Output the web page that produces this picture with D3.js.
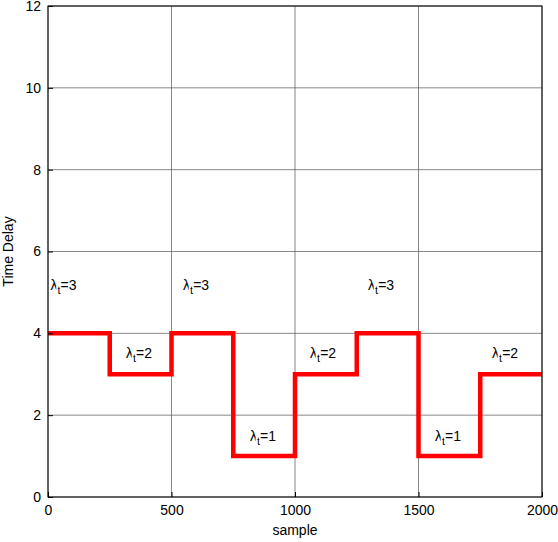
<!DOCTYPE html>
<html><head><meta charset="utf-8">
<script src="https://cdn.jsdelivr.net/npm/d3@7"></script>
<style>body{margin:0;background:#fff}</style></head>
<body><div id="wrapper"></div>
<script>
const stepStarts = [0, 250, 500, 750, 1000, 1250, 1500, 1750, 2000];
const delays = [4, 3, 4, 1, 3, 4, 1, 3, 3];
const labelX = [10, 316, 547, 818, 1061, 1296, 1567, 1798];
const labelY = [5.05, 3.4, 5.05, 1.37, 3.4, 5.05, 1.37, 3.4];
const labelVal = [3, 2, 3, 1, 2, 3, 1, 2];
const xTicks = [0, 500, 1000, 1500, 2000];
const yTicks = [0, 2, 4, 6, 8, 10, 12];

const margin = { top: 6, right: 16, bottom: 45, left: 48 };
const width = 558, height = 542;
const bw = width - margin.left - margin.right;
const bh = height - margin.top - margin.bottom;

const svg = d3.select("#wrapper").append("svg")
  .attr("width", width).attr("height", height)
  .style("font-family", "Arial, 'Liberation Sans', sans-serif");
const g = svg.append("g").attr("transform", `translate(${margin.left},${margin.top})`);

const x = d3.scaleLinear().domain([0, 2000]).range([0, bw]);
const y = d3.scaleLinear().domain([0, 12]).range([bh, 0]);

g.selectAll(".gx").data(xTicks).join("line")
  .attr("x1", d => x(d)).attr("x2", d => x(d)).attr("y1", 0).attr("y2", bh)
  .attr("stroke", "#555").attr("stroke-width", 0.7);
g.selectAll(".gy").data(yTicks).join("line")
  .attr("y1", d => y(d)).attr("y2", d => y(d)).attr("x1", 0).attr("x2", bw)
  .attr("stroke", "#555").attr("stroke-width", 0.7);

const pts = stepStarts.map((s, i) => [s, delays[i]]);
g.append("path")
  .attr("d", d3.line().curve(d3.curveStepAfter).x(d => x(d[0])).y(d => y(d[1]))(pts))
  .attr("fill", "none").attr("stroke", "#ff0000").attr("stroke-width", 4.5);

const lab = g.selectAll(".lab").data(labelX).join("text")
  .attr("x", d => x(d)).attr("y", (d, i) => y(labelY[i]))
  .attr("font-size", 14).attr("fill", "#000")
  .attr("stroke", "#fff").attr("stroke-width", 3).attr("paint-order", "stroke");
lab.append("tspan").text("λ");
lab.append("tspan").attr("dy", 4).attr("font-size", 11).text("t");
lab.append("tspan").attr("dy", -4).text((d, i) => "=" + labelVal[i]);

g.append("rect").attr("width", bw).attr("height", bh)
  .attr("fill", "none").attr("stroke", "#000").attr("stroke-width", 1);

const xa = g.append("g").attr("transform", `translate(0,${bh})`)
  .call(d3.axisBottom(x).tickValues(xTicks).tickFormat(d3.format("d")).tickSize(-5).tickPadding(8));
const ya = g.append("g")
  .call(d3.axisLeft(y).tickValues(yTicks).tickFormat(d3.format("d")).tickSize(-5).tickPadding(7));
[xa, ya].forEach(a => {
  a.select(".domain").remove();
  a.selectAll("text").attr("font-size", 14).attr("fill", "#000").style("font-family", "Arial, 'Liberation Sans', sans-serif");
});

svg.append("text").attr("x", margin.left + bw / 2).attr("y", height - 7)
  .attr("text-anchor", "middle").attr("font-size", 14).text("sample");
svg.append("text").attr("transform", `translate(13,${margin.top + bh / 2}) rotate(-90)`)
  .attr("text-anchor", "middle").attr("font-size", 14).text("Time Delay");
</script></body></html>
